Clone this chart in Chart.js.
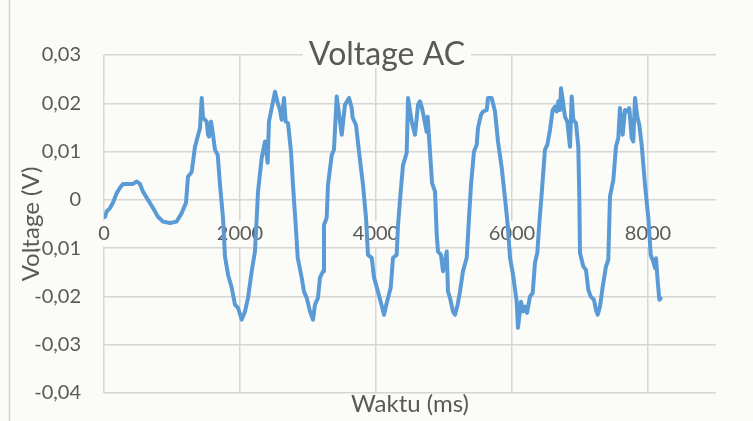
<!DOCTYPE html>
<html>
<head>
<meta charset="utf-8">
<script src="https://cdn.jsdelivr.net/npm/chart.js@4/dist/chart.umd.min.js"></script>
<style>
  html, body { margin: 0; padding: 0; background: #fbfcf8; }
  #wrap { width: 753px; height: 421px; }
</style>
</head>
<body>
<div id="wrap"><canvas id="voltage-chart" width="753" height="421"></canvas></div>
<script>
// waktu (ms) dan tegangan (V) hasil pembacaan
const waktu = [
    0, 15, 40, 88, 132, 187, 235, 279, 426, 481,
    529, 574, 647, 721, 794, 868, 971, 1069, 1143, 1206,
    1235, 1290, 1338, 1412, 1437, 1456, 1510, 1529, 1544, 1574,
    1603, 1632, 1672, 1706, 1750, 1779, 1824, 1878, 1926, 1971,
    2025, 2074, 2118, 2172, 2220, 2246, 2265, 2319, 2368, 2407,
    2426, 2466, 2515, 2554, 2588, 2613, 2647, 2672, 2706, 2750,
    2779, 2819, 2849, 2907, 2941, 2981, 3029, 3073, 3103, 3147,
    3176, 3221, 3235, 3275, 3294, 3349, 3382, 3422, 3471, 3496,
    3544, 3574, 3603, 3643, 3657, 3706, 3750, 3809, 3853, 3882,
    3937, 3971, 4029, 4069, 4118, 4162, 4216, 4250, 4304, 4324,
    4363, 4397, 4451, 4471, 4525, 4574, 4618, 4647, 4677, 4706,
    4745, 4760, 4794, 4824, 4868, 4893, 4912, 4956, 4985, 5040,
    5059, 5088, 5132, 5162, 5201, 5235, 5279, 5334, 5368, 5397,
    5441, 5481, 5500, 5544, 5574, 5628, 5647, 5701, 5750, 5794,
    5849, 5897, 5937, 5971, 6015, 6069, 6088, 6132, 6162, 6191,
    6221, 6265, 6304, 6338, 6372, 6402, 6437, 6485, 6519, 6559,
    6598, 6632, 6657, 6681, 6706, 6721, 6746, 6779, 6813, 6853,
    6878, 6902, 6941, 6975, 6990, 7000, 7049, 7088, 7122, 7157,
    7206, 7235, 7260, 7294, 7334, 7382, 7416, 7441, 7490, 7529,
    7563, 7588, 7628, 7662, 7696, 7725, 7760, 7784, 7809, 7843,
    7872, 7907, 7956, 8005, 8040, 8079, 8103, 8118, 8143, 8167, 8187
];
const tegangan = [
    -0.0033, -0.0035, -0.0024, -0.0017, -0.0006, 0.0014, 0.0025, 0.0033, 0.0033, 0.0038,
    0.0033, 0.0017, 0.0000, -0.0017, -0.0035, -0.0045, -0.0048, -0.0045, -0.0027, -0.0006,
    0.0048, 0.0058, 0.0110, 0.0149, 0.0211, 0.0170, 0.0162, 0.0135, 0.0131, 0.0162,
    0.0135, 0.0104, 0.0093, 0.0031, -0.0037, -0.0117, -0.0155, -0.0182, -0.0217, -0.0224,
    -0.0248, -0.0231, -0.0203, -0.0148, -0.0107, -0.0037, 0.0017, 0.0087, 0.0121, 0.0077,
    0.0162, 0.0190, 0.0224, 0.0201, 0.0186, 0.0166, 0.0211, 0.0162, 0.0159, 0.0100,
    0.0031, -0.0052, -0.0120, -0.0161, -0.0190, -0.0203, -0.0231, -0.0248, -0.0217, -0.0203,
    -0.0161, -0.0148, -0.0052, -0.0037, 0.0031, 0.0093, 0.0104, 0.0214, 0.0162, 0.0135,
    0.0197, 0.0204, 0.0211, 0.0190, 0.0170, 0.0155, 0.0100, 0.0031, -0.0037, -0.0114,
    -0.0120, -0.0161, -0.0190, -0.0211, -0.0238, -0.0211, -0.0182, -0.0120, -0.0114, -0.0052,
    0.0017, 0.0072, 0.0097, 0.0211, 0.0162, 0.0135, 0.0197, 0.0204, 0.0190, 0.0170,
    0.0141, 0.0172, 0.0100, 0.0035, 0.0017, -0.0072, -0.0107, -0.0114, -0.0148, -0.0107,
    -0.0190, -0.0203, -0.0231, -0.0238, -0.0217, -0.0190, -0.0148, -0.0120, -0.0037, 0.0031,
    0.0100, 0.0114, 0.0149, 0.0176, 0.0183, 0.0186, 0.0211, 0.0211, 0.0183, 0.0121,
    0.0066, 0.0004, -0.0052, -0.0120, -0.0155, -0.0211, -0.0265, -0.0211, -0.0231, -0.0221,
    -0.0234, -0.0200, -0.0193, -0.0130, -0.0110, -0.0048, 0.0014, 0.0104, 0.0114, 0.0145,
    0.0186, 0.0193, 0.0183, 0.0204, 0.0186, 0.0231, 0.0207, 0.0172, 0.0162, 0.0110,
    0.0214, 0.0166, 0.0159, 0.0110, 0.0007, -0.0110, -0.0138, -0.0145, -0.0186, -0.0200,
    -0.0207, -0.0228, -0.0238, -0.0221, -0.0180, -0.0138, -0.0124, 0.0007, 0.0041, 0.0110,
    0.0128, 0.0190, 0.0135, 0.0186, 0.0183, 0.0190, 0.0128, 0.0121, 0.0211, 0.0172,
    0.0155, 0.0114, 0.0031, -0.0038, -0.0114, -0.0128, -0.0141, -0.0121, -0.0169, -0.0207, -0.0204
];

const xTickValues = [0, 2000, 4000, 6000, 8000];
const yTickValues = [-0.04, -0.03, -0.02, -0.01, 0, 0.01, 0.02, 0.03];

const bgColor = '#fbfcf8';
const textColor = '#595959';
const gridColor = '#d6d6d6';
const fontFamily = 'Lato, "Open Sans", sans-serif';

// latar belakang, garis tepi kiri dan judul grafik
const decor = {
    id: 'decor',
    beforeDraw(chart) {
        const ctx = chart.ctx;
        ctx.save();
        ctx.fillStyle = bgColor;
        ctx.fillRect(0, 0, chart.width, chart.height);
        ctx.strokeStyle = '#d0d0d0';
        ctx.lineWidth = 1.5;
        ctx.beginPath();
        ctx.moveTo(9.5, 0);
        ctx.lineTo(9.5, chart.height);
        ctx.stroke();
        ctx.restore();
    },
    afterDraw(chart) {
        const ctx = chart.ctx;
        const title = 'Voltage AC';
        ctx.save();
        ctx.font = '32px ' + fontFamily;
        const w = ctx.measureText(title).width;
        const cx = 387;
        ctx.fillStyle = bgColor;
        ctx.fillRect(cx - w / 2 - 6, 36, w + 12, 32);
        ctx.fillStyle = textColor;
        ctx.textAlign = 'center';
        ctx.textBaseline = 'alphabetic';
        ctx.fillText(title, cx, 65);
        ctx.restore();
    }
};

const points = waktu.map((t, i) => ({x: t, y: tegangan[i]}));

const config = {
    type: 'scatter',
    data: {
        datasets: [{
            label: 'Voltage',
            data: points,
            showLine: true,
            borderColor: '#5b9bd5',
            borderWidth: 4,
            borderJoinStyle: 'round',
            borderCapStyle: 'round',
            pointRadius: 0,
            tension: 0
        }]
    },
    options: {
        responsive: false,
        animation: false,
        layout: {
            padding: {top: 55, right: 37, left: 0, bottom: 0}
        },
        plugins: {
            legend: {display: false},
            tooltip: {enabled: false}
        },
        scales: {
            x: {
                type: 'linear',
                position: {y: 0},
                min: 0,
                max: 9000,
                afterBuildTicks: (scale) => {
                    scale.ticks = xTickValues.map((v) => ({value: v}));
                },
                grid: {color: gridColor, lineWidth: 1.5, drawTicks: false},
                border: {display: false},
                ticks: {
                    color: textColor,
                    font: {family: fontFamily, size: 20},
                    padding: 22,
                    maxRotation: 0,
                    showLabelBackdrop: true,
                    backdropColor: bgColor,
                    backdropPadding: 1,
                    callback: (v) => String(v)
                }
            },
            xTitle: {
                type: 'linear',
                axis: 'x',
                position: 'bottom',
                min: 0,
                max: 9000,
                grid: {display: false},
                border: {display: false},
                ticks: {display: false},
                afterFit: (scale) => { scale.height = 28; },
                title: {
                    display: true,
                    text: 'Waktu (ms)',
                    color: textColor,
                    font: {family: fontFamily, size: 24},
                    padding: {top: 0, bottom: 2}
                }
            },
            y: {
                type: 'linear',
                min: -0.04,
                max: 0.03,
                afterBuildTicks: (scale) => {
                    scale.ticks = yTickValues.map((v) => ({value: v}));
                },
                afterFit: (scale) => {
                    scale.width = 104;
                    // the wide tick padding should not push the plot edges in
                    scale.paddingTop = 12;
                    scale.paddingBottom = 12;
                },
                grid: {color: gridColor, lineWidth: 1.5, drawTicks: false},
                border: {display: false},
                ticks: {
                    color: textColor,
                    font: {family: fontFamily, size: 20},
                    padding: 23,
                    callback: (v) => (v === 0 ? '0' : v.toFixed(2).replace('.', ','))
                },
                title: {
                    display: true,
                    text: 'Voltage (V)',
                    color: textColor,
                    font: {family: fontFamily, size: 24},
                    padding: {top: 17, bottom: 0}
                }
            }
        }
    },
    plugins: [decor]
};

const chartCanvas = document.getElementById('voltage-chart');
const voltageChart = new Chart(chartCanvas, config);
</script>
</body>
</html>
